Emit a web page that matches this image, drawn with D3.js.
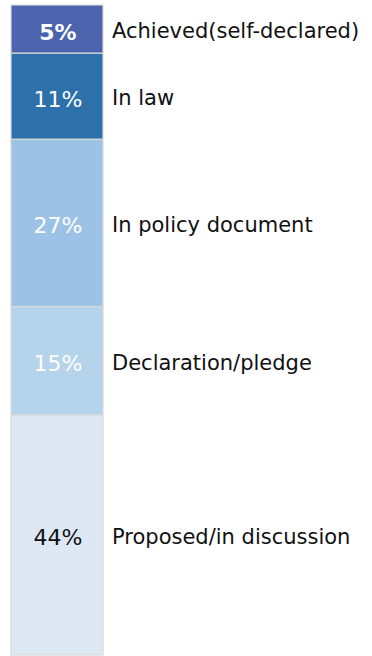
<!DOCTYPE html>
<html lang="en">
<head>
  <meta charset="UTF-8">
  <title>Status</title>
  <script src="https://d3js.org/d3.v7.min.js"></script>
  <style>
    body { margin: 0; background: #fff; }
    text { font-family: "DejaVu Sans", Verdana, sans-serif; }
  </style>
</head>
<body>
  <svg id="chart" width="372" height="656"></svg>
  <script>
    // bottom to top
    let categories = ['Proposed/in discussion', 'Declaration/pledge', 'In policy document', 'In law', 'Achieved(self-declared)'];
    let values = [44, 15, 27, 11, 5];
    let valueLabels = ['44%', '15%', '27%', '11%', '5%'];
    let colors = ['#dde8f4', '#b5d3ea', '#9cc2e5', '#2e70aa', '#4b64ad'];
    let textColors = ['#111', '#fff', '#fff', '#fff', '#fff'];

    let svg = d3.select('#chart');
    let barLeft = 11, barRight = 103, barTop = 5, barBottom = 655;

    // segment heights are not strictly proportional in the original, a power scale fits them
    let weight = d3.scalePow().exponent(0.74).domain([0, 100]).range([0, 100]);
    let w = values.map(function (v) { return weight(v); });
    let ends = Array.from(d3.cumsum(w));
    let y = d3.scaleLinear().domain([0, d3.sum(w)]).range([barBottom, barTop]);

    let data = values.map(function (v, i) {
      return { cat: categories[i], label: valueLabels[i], y0: ends[i] - w[i], y1: ends[i], i: i };
    });

    let g = svg.append('g');

    g.selectAll('rect')
      .data(data)
      .join('rect')
      .attr('x', barLeft)
      .attr('width', barRight - barLeft)
      .attr('y', function (d) { return y(d.y1); })
      .attr('height', function (d) { return y(d.y0) - y(d.y1); })
      .attr('fill', function (d) { return colors[d.i]; })
      .attr('stroke', '#d9d9d9')
      .attr('stroke-width', 1.2);

    g.selectAll('text.val')
      .data(data)
      .join('text')
      .attr('class', 'val')
      .attr('x', (barLeft + barRight) / 2 + 1)
      .attr('y', function (d) { return (y(d.y0) + y(d.y1)) / 2 + 3; })
      .attr('text-anchor', 'middle')
      .attr('dominant-baseline', 'central')
      .attr('font-size', 22)
      .attr('font-weight', function (d) { return d.i === 4 ? 'bold' : 'normal'; })
      .attr('fill', function (d) { return textColors[d.i]; })
      .text(function (d) { return d.label; });

    g.selectAll('text.cat')
      .data(data)
      .join('text')
      .attr('class', 'cat')
      .attr('x', 112)
      .attr('y', function (d) { return (y(d.y0) + y(d.y1)) / 2 + 2; })
      .attr('dominant-baseline', 'central')
      .attr('font-size', 21)
      .attr('fill', '#111')
      .text(function (d) { return d.cat; });
  </script>
</body>
</html>
